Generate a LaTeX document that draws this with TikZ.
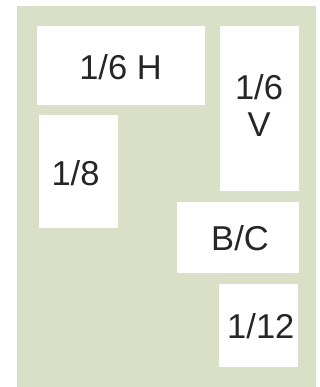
\documentclass[tikz,border=0pt]{standalone}
\usepackage{fontspec}
\setmainfont{Liberation Sans}
\definecolor{bggreen}{RGB}{218,224,199}
\begin{document}
\begin{tikzpicture}[x=1pt,y=-1pt,
  adbox/.style={fill=white,draw=none},
  adtext/.style={font=\fontsize{34.5}{36.7}\selectfont,text=black!85,inner sep=0pt,anchor=base}]
\useasboundingbox (0,0) rectangle (320,387);
\fill[bggreen] (17,6) rectangle (316,387);
% boxes
\fill[adbox] (36.7,26) rectangle (204.7,104.7);
\fill[adbox] (220,26) rectangle (298.7,190.7);
\fill[adbox] (39.3,115) rectangle (118,227.7);
\fill[adbox] (177,201.7) rectangle (298.7,272.7);
\fill[adbox] (219,284) rectangle (298,366.7);
% labels
\node[adtext] (h) at (120.5,80) {1/6 H};
\node[adtext] (v1) at (259,100) {1/6};
\node[adtext] (v2) at (259,136.7) {V};
\node[adtext] (e) at (75.5,185) {1/8};
\node[adtext] (bc) at (240,250) {B/C};
\node[adtext] (t) at (260.8,338.3) {1/12};
\end{tikzpicture}
\end{document}
